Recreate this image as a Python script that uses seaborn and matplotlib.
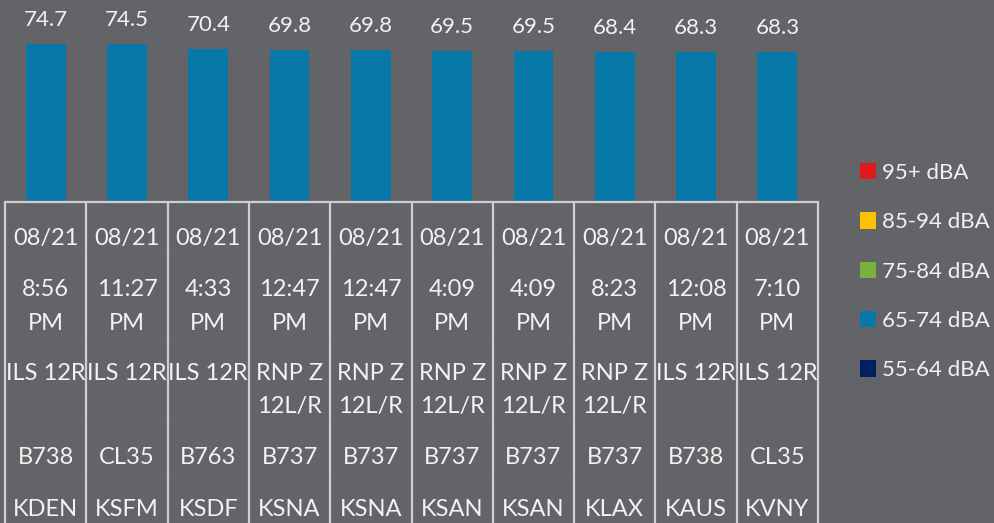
import numpy as np
import pandas as pd
import matplotlib
matplotlib.use("Agg")
import matplotlib.pyplot as plt
from matplotlib.patches import Patch
import seaborn as sns

# ---- data ----
values = [74.7, 74.5, 70.4, 69.8, 69.8, 69.5, 69.5, 68.4, 68.3, 68.3]
dates = ["08/21"] * 10
times = ["8:56\nPM", "11:27\nPM", "4:33\nPM", "12:47\nPM", "12:47\nPM",
         "4:09\nPM", "4:09\nPM", "8:23\nPM", "12:08\nPM", "7:10\nPM"]
procedures = ["ILS 12R", "ILS 12R", "ILS 12R", "RNP Z\n12L/R", "RNP Z\n12L/R",
              "RNP Z\n12L/R", "RNP Z\n12L/R", "RNP Z\n12L/R", "ILS 12R", "ILS 12R"]
aircraft = ["B738", "CL35", "B763", "B737", "B737", "B737", "B737", "B737", "B738", "CL35"]
airports = ["KDEN", "KSFM", "KSDF", "KSNA", "KSNA", "KSAN", "KSAN", "KLAX", "KAUS", "KVNY"]
legend_labels = ["95+ dBA", "85-94 dBA", "75-84 dBA", "65-74 dBA", "55-64 dBA"]
legend_colors = ["#E01B1B", "#FFC000", "#7AB23C", "#0878A8", "#002060"]

BG = "#636468"
BAR = "#0878A8"
LINE = "#CFCFCF"
TXT = "#F2F2F2"
AXIS_MIN = -52
AXIS_MAX = 110

sns.set_style("white")
plt.rcParams["font.family"] = ["Lato", "DejaVu Sans"]

W, H = 994, 523
fig = plt.figure(figsize=(W / 100, H / 100), dpi=100, facecolor=BG)

# ---- bar axes ----
tbl_top = 202
left, right = 5, 818
ax = fig.add_axes([left / W, (H - tbl_top) / H, (right - left) / W, tbl_top / H])
ax.set_facecolor(BG)
df = pd.DataFrame({"idx": list(range(len(values))),
                   "height": [v - AXIS_MIN for v in values]})
sns.barplot(data=df, x="idx", y="height", color=BAR, width=0.49,
            errorbar=None, bottom=AXIS_MIN, saturation=1, ax=ax,
            edgecolor="none", linewidth=0)
ax.set_xlim(-0.5, len(values) - 0.5)
ax.set_ylim(AXIS_MIN, AXIS_MAX)
ax.bar_label(ax.containers[0], labels=[f"{v:.1f}" for v in values],
             padding=10, color=TXT, fontsize=16)
ax.axis("off")

# ---- table axes ----
tx = fig.add_axes([left / W, 0, (right - left) / W, (H - tbl_top) / H])
tx.set_facecolor(BG)
tx.set_xlim(-0.5, len(values) - 0.5)
tx.set_ylim(H, tbl_top)
tx.axis("off")

# faint row separators
for yy in [253, 338, 421, 473]:
    tx.plot([-0.5, len(values) - 0.5], [yy, yy], color="#67686C", lw=0.8, clip_on=False)
# borders
tx.plot([-0.5, len(values) - 0.5], [tbl_top, tbl_top], color=LINE, lw=1.6,
        clip_on=False, solid_capstyle="projecting")
for k in range(len(values) + 1):
    tx.plot([k - 0.5, k - 0.5], [tbl_top, H + 5], color=LINE, lw=1.6, clip_on=False)

rows = [(dates, 239), (times, 289), (procedures, 373), (aircraft, 458), (airports, 509)]
LINE_GAP = 34
for labels, y0 in rows:
    for i, lab in enumerate(labels):
        for j, part in enumerate(lab.split("\n")):
            tx.text(i, y0 + j * LINE_GAP, part, ha="center", va="center",
                    color=TXT, fontsize=17)

# ---- legend ----
handles = [Patch(facecolor=c, edgecolor="none") for c in legend_colors]
leg = fig.legend(handles, legend_labels, loc="upper left",
                 bbox_to_anchor=(860 / W, 1 - 163 / H), frameon=False,
                 borderaxespad=0, borderpad=0,
                 fontsize=16, labelcolor=TXT, handlelength=0.72,
                 handleheight=0.76, handletextpad=0.28, labelspacing=1.32)

fig.savefig("out.png", dpi=100, facecolor=BG)
